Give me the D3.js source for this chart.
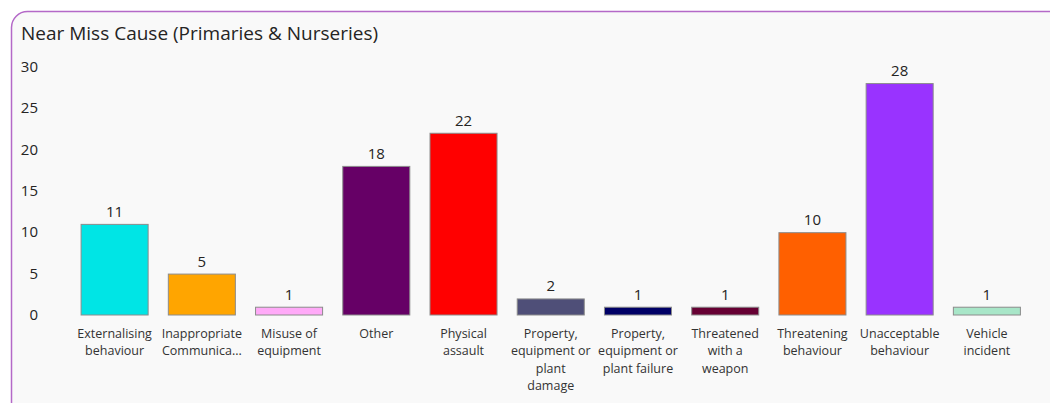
<!DOCTYPE html>
<html>
<head>
<meta charset="utf-8">
<script src="https://cdn.jsdelivr.net/npm/d3@7"></script>
<style>
  body { margin: 0; background: #ffffff; }
  text { font-family: "Open Sans", "Noto Sans", sans-serif; fill: #252423; }
</style>
</head>
<body>
<div id="chart"></div>
<script>
var categories = ['Externalising behaviour',
                  'Inappropriate Communica...',
                  'Misuse of equipment',
                  'Other',
                  'Physical assault',
                  'Property, equipment or plant damage',
                  'Property, equipment or plant failure',
                  'Threatened with a weapon',
                  'Threatening behaviour',
                  'Unacceptable behaviour',
                  'Vehicle incident'],
    labelLines = [['Externalising', 'behaviour'],
                  ['Inappropriate', 'Communica...'],
                  ['Misuse of', 'equipment'],
                  ['Other'],
                  ['Physical', 'assault'],
                  ['Property,', 'equipment or', 'plant', 'damage'],
                  ['Property,', 'equipment or', 'plant failure'],
                  ['Threatened', 'with a', 'weapon'],
                  ['Threatening', 'behaviour'],
                  ['Unacceptable', 'behaviour'],
                  ['Vehicle', 'incident']],
    values = [11, 5, 1, 18, 22, 2, 1, 1, 10, 28, 1],
    colors = ['#00E5E5', '#FFA500', '#FFAAF8', '#660066', '#FF0000', '#4F4F78',
              '#000066', '#660033', '#FF6000', '#9933FF', '#A8E6C8'],
    yTicks = [0, 5, 10, 15, 20, 25, 30];

var width = 1050, height = 403;

var svg = d3.select("#chart").append("svg")
  .attr("width", width)
  .attr("height", height);

// card background + border
svg.append("rect")
  .attr("x", 11.5).attr("y", 11.5)
  .attr("width", 1060).attr("height", 420)
  .attr("rx", 16).attr("ry", 16)
  .style("fill", "#F9F9F9")
  .style("stroke", "#B469C8")
  .style("stroke-width", 1.5);

svg.append("text")
  .attr("x", 21).attr("y", 40)
  .style("font-size", "19px")
  .text("Near Miss Cause (Primaries & Nurseries)");

// scales
var x = d3.scaleBand()
  .domain(categories)
  .range([71, 1030.5])
  .paddingInner(0.22)
  .paddingOuter(0.11);

var y = d3.scaleLinear()
  .domain([0, 30])
  .range([315, 66.5]);

// y tick labels
svg.append("g").selectAll("text")
  .data(yTicks)
  .enter().append("text")
  .attr("x", 38)
  .attr("y", function(d) { return y(d); })
  .attr("dy", "0.35em")
  .attr("text-anchor", "end")
  .style("font-size", "15px")
  .text(function(d) { return d; });

// bars
svg.append("g").selectAll("rect")
  .data(values)
  .enter().append("rect")
  .attr("x", function(d, i) { return x(categories[i]) + 0.5; })
  .attr("y", function(d) { return y(d) + 0.5; })
  .attr("width", x.bandwidth() - 1)
  .attr("height", function(d) { return y(0) - y(d) - 0.5; })
  .style("fill", function(d, i) { return colors[i]; })
  .style("stroke", "#8C8C8C")
  .style("stroke-width", 1);

// data labels
svg.append("g").selectAll("text")
  .data(values)
  .enter().append("text")
  .attr("x", function(d, i) { return x(categories[i]) + x.bandwidth() / 2; })
  .attr("y", function(d) { return y(d) - 7; })
  .attr("text-anchor", "middle")
  .style("font-size", "15px")
  .text(function(d) { return d; });

// category labels
var catG = svg.append("g").selectAll("text")
  .data(labelLines)
  .enter().append("text")
  .attr("text-anchor", "middle")
  .style("font-size", "12.5px")
  .style("fill", "#333");

catG.selectAll("tspan")
  .data(function(d, i) { return d.map(function(l) { return { t: l, i: i }; }); })
  .enter().append("tspan")
  .attr("x", function(d) { return x(categories[d.i]) + x.bandwidth() / 2; })
  .attr("y", function(d, j) { return 337.5 + j * 17.6; })
  .text(function(d) { return d.t; });
</script>
</body>
</html>
